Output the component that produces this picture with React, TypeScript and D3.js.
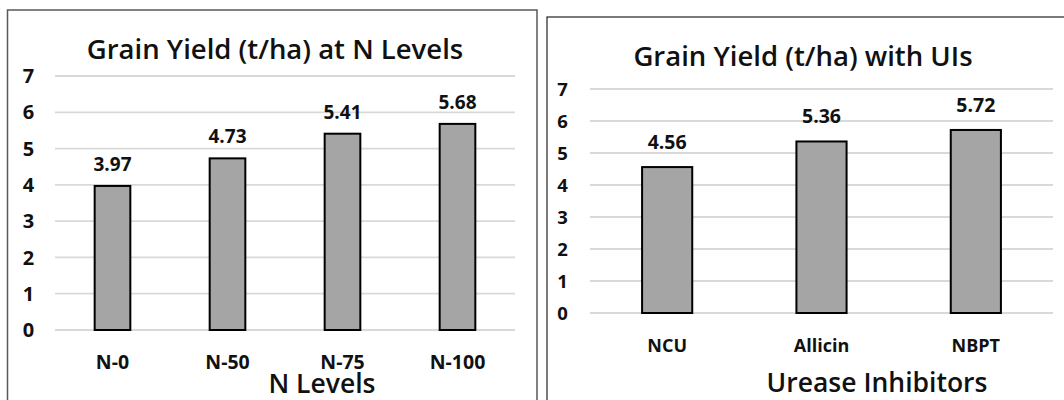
import React from "react";
import * as d3 from "d3";

const nCategories = ["N-0", "N-50", "N-75", "N-100"];
const nValues = [3.97, 4.73, 5.41, 5.68];
const uiCategories = ["NCU", "Allicin", "NBPT"];
const uiValues = [4.56, 5.36, 5.72];
const yTicks = [0, 1, 2, 3, 4, 5, 6, 7];

const FONT = "'Open Sans', 'Noto Sans', sans-serif";

type PanelProps = {
  box: { x: number; y: number; w: number; h: number; stroke: string; sw: number };
  plot: { x0: number; x1: number; y0: number; y1: number };
  cats: string[];
  vals: number[];
  title: string;
  titleX: number;
  titleY: number;
  titleSize: number;
  axisTitle: string;
  axisTitleX: number;
  axisTitleY: number;
  axisTitleSize: number;
  tickX: number;
  tickSize: number;
  catY: number;
  catSize: number;
  labelSize: number;
  labelGap: number;
  padding: number;
};

function Panel(p: PanelProps) {
  const x = d3.scaleBand<string>().domain(p.cats).range([p.plot.x0, p.plot.x1]).paddingInner(p.padding).paddingOuter(p.padding / 2);
  const y = d3.scaleLinear().domain([0, 7]).range([p.plot.y1, p.plot.y0]);
  return (
    <g>
      <rect x={p.box.x} y={p.box.y} width={p.box.w} height={p.box.h} fill="#fff" stroke={p.box.stroke} strokeWidth={p.box.sw} />
      <text x={p.titleX} y={p.titleY} textAnchor="middle" fontFamily={FONT} fontSize={p.titleSize} fontWeight={600} fill="#111">{p.title}</text>
      {yTicks.map((t) => (
        <g key={t}>
          <line x1={p.plot.x0} x2={p.plot.x1} y1={y(t)} y2={y(t)} stroke="#d9d9d9" strokeWidth={1.8} />
          <text x={p.tickX} y={y(t)} dy="0.36em" textAnchor="middle" fontFamily={FONT} fontSize={p.tickSize} fontWeight={700} fill="#111">{t}</text>
        </g>
      ))}
      {p.cats.map((c, i) => (
        <g key={c}>
          <rect x={x(c)} y={y(p.vals[i])} width={x.bandwidth()} height={y(0) - y(p.vals[i])} fill="#a5a5a5" stroke="#000" strokeWidth={2} />
          <text x={(x(c) as number) + x.bandwidth() / 2} y={y(p.vals[i]) - p.labelGap} textAnchor="middle" fontFamily={FONT} fontSize={p.labelSize} fontWeight={700} fill="#111">{p.vals[i].toFixed(2)}</text>
          <text x={(x(c) as number) + x.bandwidth() / 2} y={p.catY} textAnchor="middle" fontFamily={FONT} fontSize={p.catSize} fontWeight={700} fill="#111">{c}</text>
        </g>
      ))}
      <text x={p.axisTitleX} y={p.axisTitleY} textAnchor="middle" fontFamily={FONT} fontSize={p.axisTitleSize} fontWeight={600} fill="#111">{p.axisTitle}</text>
    </g>
  );
}

export default function App() {
  return (
    <svg width={1064} height={400} style={{ position: "absolute", left: 0, top: 0, background: "#fff" }}>
      <rect x={0} y={0} width={1064} height={400} fill="#fff" />
      <Panel
        box={{ x: 7.5, y: 10, w: 529.5, h: 400, stroke: "#595959", sw: 1.5 }}
        plot={{ x0: 55, x1: 515, y0: 76, y1: 330 }}
        cats={nCategories}
        vals={nValues}
        title="Grain Yield (t/ha) at N Levels"
        titleX={275}
        titleY={59}
        titleSize={27.5}
        axisTitle="N Levels"
        axisTitleX={322}
        axisTitleY={393}
        axisTitleSize={26.5}
        tickX={28.5}
        tickSize={20}
        catY={369}
        catSize={19.5}
        labelSize={19}
        labelGap={15}
        padding={0.69}
      />
      <Panel
        box={{ x: 547, y: 17, w: 530, h: 400, stroke: "#222", sw: 1.2 }}
        plot={{ x0: 590, x1: 1053, y0: 89, y1: 313 }}
        cats={uiCategories}
        vals={uiValues}
        title="Grain Yield (t/ha) with UIs"
        titleX={803}
        titleY={66}
        titleSize={27.5}
        axisTitle="Urease Inhibitors"
        axisTitleX={877}
        axisTitleY={392}
        axisTitleSize={26.5}
        tickX={562.5}
        tickSize={18.5}
        catY={352}
        catSize={18}
        labelSize={19.5}
        labelGap={18}
        padding={0.675}
      />
    </svg>
  );
}
